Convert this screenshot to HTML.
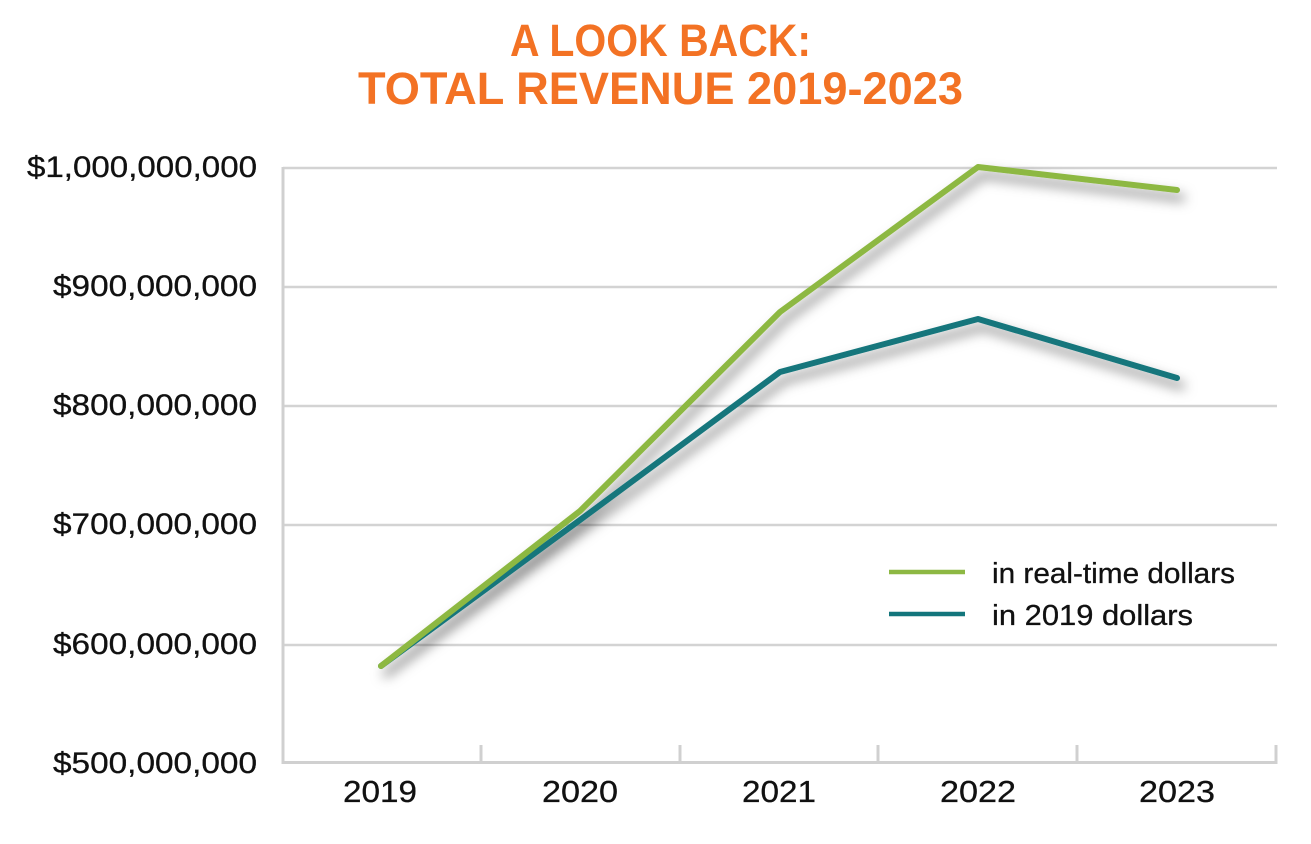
<!DOCTYPE html>
<html>
<head>
<meta charset="utf-8">
<style>
  html, body { margin: 0; padding: 0; background: #ffffff; }
  body { width: 1311px; height: 844px; overflow: hidden; }
  svg { display: block; }
</style>
</head>
<body>
<svg width="1311" height="844" viewBox="0 0 1311 844" xmlns="http://www.w3.org/2000/svg">
  <defs>
    <filter id="sh" x="-20%" y="-20%" width="140%" height="150%">
      <feDropShadow dx="5" dy="8" stdDeviation="6" flood-color="#000" flood-opacity="0.5"/>
    </filter>
  </defs>
  <rect width="1311" height="844" fill="#ffffff"/>

  <!-- Title -->
  <g font-family="'Liberation Sans', sans-serif" font-weight="bold" fill="#F37224" font-size="45">
    <text x="510" y="56" textLength="301" lengthAdjust="spacingAndGlyphs">A LOOK BACK:</text>
    <text x="358" y="104" textLength="605" lengthAdjust="spacingAndGlyphs">TOTAL REVENUE 2019-2023</text>
  </g>

  <!-- Gridlines -->
  <g stroke="#d3d3d3" stroke-width="2.5" fill="none">
    <line x1="283" y1="168" x2="1277" y2="168"/>
    <line x1="283" y1="287" x2="1277" y2="287"/>
    <line x1="283" y1="406" x2="1277" y2="406"/>
    <line x1="283" y1="525" x2="1277" y2="525"/>
    <line x1="283" y1="645" x2="1277" y2="645"/>
  </g>
  <!-- Axes -->
  <g stroke="#d0d0d0" fill="none">
    <line x1="283" y1="167" x2="283" y2="764" stroke-width="3"/>
    <line x1="282" y1="762.5" x2="1277.5" y2="762.5" stroke-width="3"/>
    <line x1="481" y1="745" x2="481" y2="763" stroke-width="3"/>
    <line x1="680" y1="745" x2="680" y2="763" stroke-width="3"/>
    <line x1="878" y1="745" x2="878" y2="763" stroke-width="3"/>
    <line x1="1077" y1="745" x2="1077" y2="763" stroke-width="3"/>
    <line x1="1276" y1="745" x2="1276" y2="763" stroke-width="3"/>
  </g>

  <!-- Y labels -->
  <g font-family="'Liberation Sans', sans-serif" font-size="29.5" fill="#111" stroke="#111" stroke-width="0.3">
    <text x="27" y="177" textLength="230" lengthAdjust="spacingAndGlyphs">$1,000,000,000</text>
    <text x="53" y="296" textLength="204" lengthAdjust="spacingAndGlyphs">$900,000,000</text>
    <text x="53" y="415" textLength="204" lengthAdjust="spacingAndGlyphs">$800,000,000</text>
    <text x="53" y="534" textLength="204" lengthAdjust="spacingAndGlyphs">$700,000,000</text>
    <text x="53" y="654" textLength="204" lengthAdjust="spacingAndGlyphs">$600,000,000</text>
    <text x="53" y="773" textLength="204" lengthAdjust="spacingAndGlyphs">$500,000,000</text>
  </g>

  <!-- X labels -->
  <g font-family="'Liberation Sans', sans-serif" font-size="30.5" fill="#111" stroke="#111" stroke-width="0.3">
    <text x="343" y="802" textLength="74" lengthAdjust="spacingAndGlyphs">2019</text>
    <text x="542" y="802" textLength="76" lengthAdjust="spacingAndGlyphs">2020</text>
    <text x="742" y="802" textLength="74" lengthAdjust="spacingAndGlyphs">2021</text>
    <text x="940" y="802" textLength="76" lengthAdjust="spacingAndGlyphs">2022</text>
    <text x="1139" y="802" textLength="76" lengthAdjust="spacingAndGlyphs">2023</text>
  </g>

  <!-- Series -->
  <g fill="none" stroke-width="6" stroke-linejoin="round" stroke-linecap="round" filter="url(#sh)">
    <polyline stroke="#13767C" points="381,666 580,520 780,372 978,319 1177,378"/>
    <polyline stroke="#8DB843" points="381,666 580,511 780,312 978,167 1177,190"/>
  </g>

  <!-- Legend -->
  <g>
    <line x1="889" y1="572" x2="965" y2="572" stroke="#8DB843" stroke-width="4.5"/>
    <line x1="889" y1="614" x2="965" y2="614" stroke="#13767C" stroke-width="4.5"/>
    <g font-family="'Liberation Sans', sans-serif" font-size="29" fill="#111" stroke="#111" stroke-width="0.3">
      <text x="992" y="583" textLength="243" lengthAdjust="spacingAndGlyphs">in real-time dollars</text>
      <text x="992" y="625" textLength="201" lengthAdjust="spacingAndGlyphs">in 2019 dollars</text>
    </g>
  </g>
</svg>
</body>
</html>
